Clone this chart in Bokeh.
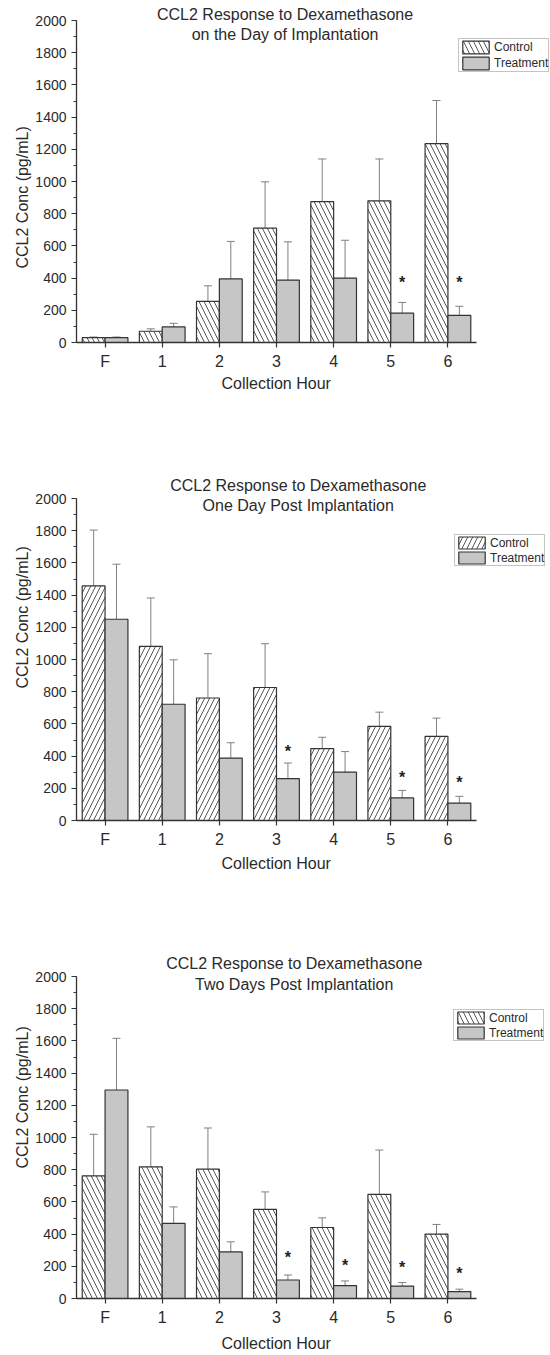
from bokeh.plotting import figure
from bokeh.models import (ColumnDataSource, Range1d, FixedTicker, SingleIntervalTicker,
                          Whisker, TeeHead, Legend, LegendItem, Label, Title)
from bokeh.transform import dodge
from bokeh.layouts import column
from bokeh.embed import file_html
from bokeh.resources import INLINE
from bokeh.core.properties import value

hours = ["F", "1", "2", "3", "4", "5", "6"]
series_names = ["Control", "Treatment"]
x_title = "Collection Hour"
y_title = "CCL2 Conc (pg/mL)"

# Panel 1: day of implantation
day0_title = ["CCL2 Response to Dexamethasone", "on the Day of Implantation"]
day0_control = [30, 70, 255, 710, 875, 880, 1235]
day0_control_err = [4, 15, 97, 288, 265, 260, 268]
day0_treat = [30, 97, 395, 388, 400, 182, 168]
day0_treat_err = [4, 22, 233, 237, 235, 67, 57]
day0_star_hours = ["5", "6"]
day0_star_y = [430, 430]

# Panel 2: one day post implantation
day1_title = ["CCL2 Response to Dexamethasone", "One Day Post Implantation"]
day1_control = [1457, 1082, 761, 826, 447, 585, 522]
day1_control_err = [347, 300, 275, 272, 70, 88, 114]
day1_treat = [1250, 722, 388, 260, 300, 140, 108]
day1_treat_err = [342, 276, 95, 97, 128, 47, 42]
day1_star_hours = ["3", "5", "6"]
day1_star_y = [487, 321, 290]

# Panel 3: two days post implantation
day2_title = ["CCL2 Response to Dexamethasone", "Two Days Post Implantation"]
day2_control = [762, 818, 803, 553, 441, 647, 400]
day2_control_err = [258, 248, 256, 109, 60, 275, 60]
day2_treat = [1295, 466, 290, 115, 80, 77, 43]
day2_treat_err = [321, 103, 62, 31, 29, 22, 15]
day2_star_hours = ["3", "4", "5", "6"]
day2_star_y = [311, 263, 249, 213]

FONT = "Liberation Sans"
DARK = "#2a2a2a"
FIG_W = 550
LEFT = 76          # frame left edge (px)
AXIS_PX = 322      # pixel length of the 0..2000 axis
CAT_PX = 400 / 7   # pixel width of one category


def make_panel(title, control, control_err, treat, treat_err, star_hours, star_y,
               height, border_bottom, hatch, title_x, title_y,
               legend_loc, legend_glyph_h, xlabel_standoff):
    frame_h = height - border_bottom
    y_end = 2000 * frame_h / AXIS_PX
    x_end = -0.5 + (FIG_W - LEFT) / CAT_PX
    p = figure(width=FIG_W, height=height,
               x_range=Range1d(-0.5, x_end), y_range=Range1d(0, y_end),
               output_backend="svg", toolbar_location=None,
               min_border_left=LEFT, min_border_right=0,
               min_border_top=0, min_border_bottom=border_bottom)
    p.outline_line_color = None
    p.grid.visible = False
    p.background_fill_color = "white"

    pos = list(range(len(hours)))
    src = ColumnDataSource(dict(
        pos=pos, hour=hours, control=control, treat=treat,
        c_up=[v + e for v, e in zip(control, control_err)],
        c_lo=[v - e for v, e in zip(control, control_err)],
        t_up=[v + e for v, e in zip(treat, treat_err)],
        t_lo=[v - e for v, e in zip(treat, treat_err)],
    ))

    rc = p.vbar(x=dodge("pos", -0.2), top="control", width=0.4, bottom=0,
                source=src, fill_color="white", line_color="#333333", line_width=1.2,
                hatch_pattern=hatch, hatch_color="#444444", hatch_weight=0.9, hatch_scale=10)
    rt = p.vbar(x=dodge("pos", 0.2), top="treat", width=0.4, bottom=0,
                source=src, fill_color="#c6c6c6", line_color="#333333", line_width=1.2)

    for base_off, up, lo in [(-0.2, "c_up", "c_lo"), (0.2, "t_up", "t_lo")]:
        w = Whisker(base=dodge("pos", base_off), upper=up, lower=lo,
                    source=src, dimension="height", line_color="#808080", line_width=1,
                    upper_head=TeeHead(size=8, line_color="#808080", line_width=1),
                    lower_head=TeeHead(size=8, line_color="#808080", line_width=1))
        p.add_layout(w)

    star_pos = [hours.index(h) for h in star_hours]
    star_src = ColumnDataSource(dict(pos=star_pos, y=star_y, s=["*"] * len(star_hours)))
    p.text(x=dodge("pos", 0.2), y="y", text="s", source=star_src,
           text_font=value(FONT), text_font_size="16px", text_font_style="bold",
           text_color="#222222", text_align="center", text_baseline="alphabetic",
           y_offset=9)

    for txt, ty in zip(title, title_y):
        p.add_layout(Label(x=title_x, y=ty, text=txt, text_align="center",
                           text_baseline="middle", text_font=FONT,
                           text_font_size="16px", text_color=DARK))

    legend = Legend(items=[LegendItem(label=series_names[0], renderers=[rc]),
                           LegendItem(label=series_names[1], renderers=[rt])],
                    location=legend_loc, orientation="vertical",
                    padding=0, spacing=0, margin=0,
                    glyph_width=33, glyph_height=legend_glyph_h, label_height=legend_glyph_h,
                    label_standoff=2, label_text_font=FONT, label_text_font_size="12px",
                    label_text_color=DARK, border_line_color="#8a8a8a", border_line_width=1,
                    background_fill_color="white", background_fill_alpha=1)
    p.add_layout(legend, "center")

    for ax in (p.xaxis[0], p.yaxis[0]):
        ax.axis_line_color = "#333333"
        ax.axis_line_width = 1.3
        ax.major_tick_line_color = "#333333"
        ax.major_tick_line_width = 1.2
        ax.minor_tick_line_color = "#333333"
        ax.major_tick_in = 0
        ax.major_tick_out = 5
        ax.minor_tick_in = 0
        ax.minor_tick_out = 3
        ax.major_label_text_font = FONT
        ax.major_label_text_color = DARK

    p.yaxis.ticker = SingleIntervalTicker(interval=200, num_minor_ticks=2)
    p.yaxis.bounds = (0, 2000)
    p.yaxis.major_label_text_font_size = "14px"
    p.yaxis.major_label_standoff = 5

    p.xaxis.ticker = FixedTicker(ticks=pos, minor_ticks=[])
    p.xaxis.major_label_overrides = {i: h for i, h in zip(pos, hours)}
    p.xaxis.bounds = (-0.5, 6.5)
    p.xaxis.major_label_text_font_size = "16px"
    p.xaxis.major_label_standoff = 5

    # axis titles, centred on the axis extents rather than on the whole frame
    p.add_layout(Title(text=x_title, align="left", offset=145, standoff=xlabel_standoff,
                       text_font=FONT, text_font_size="16px", text_font_style="normal",
                       text_color=DARK), "below")
    p.add_layout(Title(text=y_title, align="left", offset=74 + frame_h - 342,
                       standoff=3, text_font=FONT, text_font_size="16px",
                       text_font_style="normal", text_color=DARK), "left")
    return p


p1 = make_panel(day0_title, day0_control, day0_control_err, day0_treat, day0_treat_err,
                day0_star_hours, day0_star_y, height=420, border_bottom=78,
                hatch="\\", title_x=3.15, title_y=[2037, 1913],
                legend_loc=(382, 270), legend_glyph_h=16, xlabel_standoff=0)
p2 = make_panel(day1_title, day1_control, day1_control_err, day1_treat, day1_treat_err,
                day1_star_hours, day1_star_y, height=480, border_bottom=80,
                hatch="/", title_x=3.38, title_y=[2079, 1954],
                legend_loc=(378, 254), legend_glyph_h=15, xlabel_standoff=4)
p3 = make_panel(day2_title, day2_control, day2_control_err, day2_treat, day2_treat_err,
                day2_star_hours, day2_star_y, height=455, border_bottom=57,
                hatch="\\", title_x=3.31, title_y=[2079, 1948],
                legend_loc=(377, 257), legend_glyph_h=15, xlabel_standoff=8)

layout = column(p1, p2, p3, spacing=0)
open("out.html", "w").write(file_html(layout, INLINE))
